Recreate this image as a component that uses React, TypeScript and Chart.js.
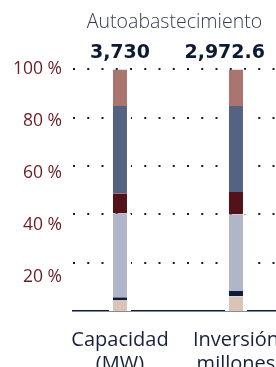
import React, { useEffect, useRef } from "react";
import { Chart, registerables } from "chart.js";

Chart.register(...registerables);

const categoryLines = [["Capacidad", "(MW)"], ["Inversión", "millones"]];
const totals = ["3,730", "2,972.6"];
const title = "Autoabastecimiento";
const yTickValues = [20, 40, 60, 80, 100];

const seriesNames = ["Segmento 1", "Segmento 2", "Segmento 3", "Segmento 4", "Segmento 5", "Segmento 6"];
const seriesPeach = [4.3, 6.1];
const seriesNavy = [1.4, 2.35];
const seriesLavender = [34.7, 31.65];
const seriesDarkRed = [8.35, 9.2];
const seriesBlue = [36.15, 35.6];
const seriesRosy = [15.1, 15.1];

const seriesColors = ["#dcc3b8", "#0c1c3a", "#b0b5c9", "#531118", "#556382", "#a9756e"];

export default function App() {
  const ref = useRef<HTMLCanvasElement | null>(null);

  useEffect(() => {
    if (!ref.current) return;
    const allSeries = [seriesPeach, seriesNavy, seriesLavender, seriesDarkRed, seriesBlue, seriesRosy];
    const datasets = allSeries.map((s, di) => ({
      label: seriesNames[di],
      data: s.map((v, i) => ({ x: i, y: v })),
      backgroundColor: seriesColors[di],
      borderColor: "#ffffff",
      borderWidth: { top: 0, bottom: 0, left: 4, right: 4 },
      borderSkipped: false as const,
      barThickness: 22,
      inflateAmount: 0,
    }));

    const totalsPlugin = {
      id: "totals",
      afterDatasetsDraw(chart: any) {
        const ctx = chart.ctx;
        const meta = chart.getDatasetMeta(chart.data.datasets.length - 1);
        ctx.save();
        ctx.font = "bold 19px 'DejaVu Sans'";
        ctx.fillStyle = "#0d1a33";
        ctx.textAlign = "center";
        ctx.textBaseline = "middle";
        meta.data.forEach((el: any, i: number) => {
          const w = ctx.measureText(totals[i]).width;
          const x = Math.min(el.x, chart.width - w / 2 - 11);
          ctx.fillText(totals[i], x, el.y - 16);
        });
        ctx.restore();
      },
    };

    const chart = new Chart(ref.current, {
      type: "bar",
      data: { datasets: datasets as any },
      plugins: [totalsPlugin],
      options: {
        animation: false,
        responsive: true,
        maintainAspectRatio: false,
        layout: { padding: 0 },
        plugins: {
          legend: { display: false },
          tooltip: { enabled: false },
          title: {
            display: true,
            text: title,
            fullSize: false,
            color: "#333d52",
            font: { family: "'Open Sans'", size: 19.5, weight: "300" as any },
            padding: { top: 11, bottom: 23 },
          },
        },
        scales: {
          x: {
            type: "linear",
            min: -0.405,
            max: 1.345,
            offset: false,
            stacked: true,
            grid: { display: false },
            border: { display: true, color: "#0c1c3a", width: 1.5 },
            afterBuildTicks: (s: any) => {
              s.ticks = categoryLines.map((_, i) => ({ value: i }));
            },
            afterFit: (s: any) => {
              s.height = 56;
              s.paddingLeft = 0;
              s.paddingRight = 0;
            },
            ticks: {
              autoSkip: false,
              maxRotation: 0,
              padding: 9,
              color: "#15213b",
              font: { family: "'Open Sans'", size: 20 },
              callback: (v: any) => categoryLines[v] ?? "",
            },
          },
          y: {
            position: "left",
            stacked: true,
            min: 0,
            max: 105,
            afterBuildTicks: (s: any) => {
              s.ticks = yTickValues.map((v) => ({ value: v }));
            },
            afterFit: (s: any) => {
              s.width = 0;
            },
            ticks: { display: false },
            grid: { color: "#0c1c3a", lineWidth: 2, drawTicks: false },
            border: { display: false, dash: [2, 12.25] },
          },
          yl: {
            position: "left",
            min: 7.07,
            max: 104.32,
            afterBuildTicks: (s: any) => {
              s.ticks = yTickValues.map((v) => ({ value: v }));
            },
            afterFit: (s: any) => {
              s.width = 73;
            },
            grid: { display: false, drawTicks: false },
            border: { display: false },
            ticks: {
              padding: 11,
              color: "#6b1e24",
              font: { family: "'Open Sans'", size: 17.5 },
              callback: (v: any) => v + " %",
            },
          },
        },
      },
    });
    return () => chart.destroy();
  }, []);

  return (
    <div style={{ position: "absolute", left: 0, top: 0, width: 276, height: 367, overflow: "hidden" }}>
      <canvas ref={ref} />
    </div>
  );
}
